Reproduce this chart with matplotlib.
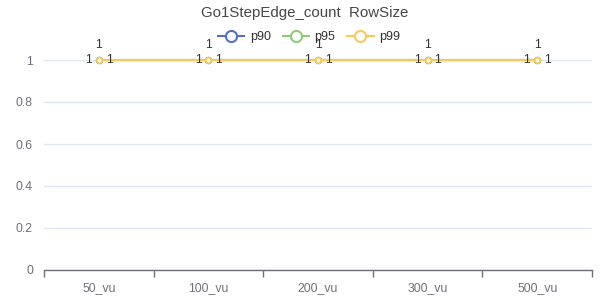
import matplotlib
matplotlib.use("Agg")
import matplotlib.pyplot as plt
from matplotlib.lines import Line2D

plt.rcParams['font.family'] = ['Liberation Sans', 'DejaVu Sans']

categories = ["50_vu", "100_vu", "200_vu", "300_vu", "500_vu"]
series_names = ["p90", "p95", "p99"]
p90 = [1, 1, 1, 1, 1]
p95 = [1, 1, 1, 1, 1]
p99 = [1, 1, 1, 1, 1]
series_values = [p90, p95, p99]
colors = ["#5470c6", "#91cc75", "#fac858"]
label_pos = ["left", "top", "right"]
yticks = [0, 0.2, 0.4, 0.6, 0.8, 1]

fig = plt.figure(figsize=(6.16, 3.0), dpi=100)
ax = fig.add_axes([44/616, 30/300, 548/616, 210/300])

x = list(range(len(categories)))
for name, vals, c, pos in zip(series_names, series_values, colors, label_pos):
    ax.plot(x, vals, color=c, lw=1.5, marker='o', markersize=4,
            markerfacecolor='white', markeredgecolor=c, markeredgewidth=1.3,
            zorder=3, clip_on=False)
    for xi, v in zip(x, vals):
        if pos == "left":
            off, ha, va = (-5, 0), 'right', 'center'
        elif pos == "top":
            off, ha, va = (0, 10.5), 'center', 'center'
        else:
            off, ha, va = (5, 0), 'left', 'center'
        ax.annotate(f"{v:g}", (xi, v), xytext=off, textcoords='offset points',
                    ha=ha, va=va, fontsize=8.8, color='#333333', zorder=4)

ax.set_xlim(-0.5, len(categories) - 0.5)
ax.set_ylim(0, 1)
ax.set_yticks(yticks)
ax.set_yticklabels([f"{t:g}" for t in yticks])
ax.set_xticks(x)
ax.set_xticklabels(categories)
ax.set_xticks([i - 0.5 for i in range(len(categories) + 1)], minor=True)
ax.tick_params(axis='x', which='major', length=0, pad=9, labelsize=8.8, labelcolor='#6E7079')
ax.tick_params(axis='x', which='minor', length=5, width=1, color='#6E7079', direction='out')
ax.tick_params(axis='y', length=0, pad=8, labelsize=8.8, labelcolor='#6E7079')
ax.grid(axis='y', color='#E0E6F1', lw=1)
ax.set_axisbelow(True)
for s in ['top', 'right', 'left']:
    ax.spines[s].set_visible(False)
ax.spines['bottom'].set_color('#6E7079')
ax.spines['bottom'].set_linewidth(1)
ax.spines['bottom'].set_zorder(5)

fig.text(305/616, 1 - 13/300, "Go1StepEdge_count  RowSize", ha='center', va='center',
         fontsize=10.8, color='#464646')

handles = [Line2D([0], [0], color=c, lw=1.5, marker='o', markersize=8,
                  markerfacecolor='white', markeredgecolor=c, markeredgewidth=1.5)
           for c in colors]
fig.legend(handles, series_names, loc='center', bbox_to_anchor=(309/616, 1 - 37/300),
           ncol=3, frameon=False, fontsize=9, labelcolor='#333333',
           handlelength=2.1, handletextpad=0.45, columnspacing=0.95)

fig.savefig("out.png", dpi=100)
